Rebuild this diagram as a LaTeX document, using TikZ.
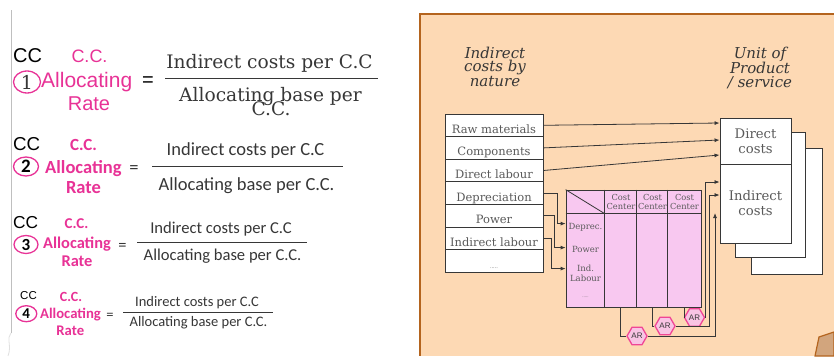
\documentclass[tikz,border=0pt]{standalone}
\usepackage{fontspec}
\setmainfont{DejaVu Serif}
\newfontfamily\slab{DejaVu Serif}
\newfontfamily\arialf{Liberation Sans}
\newfontfamily\calf{Carlito}
\usetikzlibrary{arrows.meta,shapes.geometric,calc}
\definecolor{pk}{RGB}{232,50,150}
\definecolor{txt}{RGB}{55,55,55}
\definecolor{gtxt}{RGB}{90,90,90}
\definecolor{peach}{RGB}{253,217,180}
\definecolor{brownb}{RGB}{180,100,30}
\definecolor{mpink}{RGB}{248,200,240}
\definecolor{hexf}{RGB}{248,196,228}
\definecolor{hexd}{RGB}{240,70,150}
\definecolor{tanf}{RGB}{210,165,125}
\newcommand{\fsz}[1]{\fontsize{#1}{#1}\selectfont}
\begin{document}
\begin{tikzpicture}[x=1pt,y=-1pt,
  t/.style={inner sep=0pt, anchor=base},
  circ/.style={draw=pk, line width=1.3pt, ellipse, inner sep=0pt},
  fline/.style={draw=txt, line width=0.9pt},
  rowbox/.style={draw=txt, fill=white, line width=0.8pt, minimum width=98pt, minimum height=22.6pt,
     text height=16pt, text depth=0pt, inner sep=0pt, font=\slab\fsz{11.5}, text=gtxt},
  stackbox/.style={draw=txt, fill=white, line width=0.9pt, inner sep=0pt, align=center,
     font=\slab\fontsize{13.2}{15}\selectfont, text=gtxt},
  hdr/.style={font=\slab\itshape\fontsize{15}{13.5}\selectfont, align=center, inner sep=0pt, anchor=north, text=txt},
  conn/.style={draw=txt, line width=0.8pt},
  arr/.style={conn, -{Latex[length=5pt,width=4pt]}},
  hexa/.style={regular polygon, regular polygon sides=6, minimum size=20pt, inner sep=0pt,
     fill=hexf, draw=hexd, line width=1.3pt, font=\arialf\fsz{8}, text=txt},
  mlab/.style={font=\slab\fontsize{8.5}{10}\selectfont, text=gtxt, align=center, inner sep=0pt},
  hlab/.style={font=\slab\fontsize{8.3}{9}\selectfont, text=gtxt, align=center, inner sep=0pt}
]
\useasboundingbox (0,0) rectangle (834,356);
\fill[white] (0,0) rectangle (834,356);

% left margin line
\draw[black!25, line width=1pt] (11,10) -- (11,333);
\draw[black!12, line width=0.8pt] (11,333) .. controls (6,338) and (12,346) .. (8,356);

% ---------- Formula 1 ----------
\node[t, anchor=base west, font=\arialf\fsz{20}, text=black] (cc1) at (13,62) {CC};
\node[t, font=\arialf\fsz{18}, text=pk] (cct1) at (89.5,62) {C.C.};
\node[circ, minimum width=27pt, minimum height=22pt, font=\slab\fsz{19}, text=txt] (n1) at (27,82) {1};
\node[t, anchor=base west, font=\arialf\fsz{21}, text=pk] (al1) at (41,87.5) {Allocating};
\node[inner sep=0pt, font=\arialf\fsz{20}, text=black] (eq1) at (148,82) {=};
\node[t, font=\arialf\fsz{20}, text=pk] (rt1) at (89,110.5) {Rate};
\node[t, font=\slab\fsz{18.6}, text=txt] (num1) at (269.5,68) {Indirect costs per C.C};
\draw[fline] (165,78) -- (378,78);
\node[t, font=\slab\fsz{18.6}, text=txt] (den1) at (270.5,101.5) {Allocating base per};
\node[t, font=\slab\fsz{18.6}, text=txt] (den1b) at (271,115) {C.C.};

% ---------- Formula 2 ----------
\node[t, anchor=base west, font=\arialf\fsz{18.7}, text=black] (cc2) at (13,150) {CC};
\node[t, font=\calf\bfseries\fsz{17}, text=pk] (cct2) at (83.5,150) {C.C.};
\node[circ, minimum width=25pt, minimum height=19pt, font=\calf\bfseries\fsz{19}, text=black] (n2) at (26,166.5) {2};
\node[t, anchor=base west, font=\calf\bfseries\fsz{18.5}, text=pk] (al2) at (45,173.3) {Allocating};
\node[inner sep=0pt, font=\calf\fsz{18.5}, text=txt] (eq2) at (134,170) {=};
\node[t, font=\calf\bfseries\fsz{18.5}, text=pk] (rt2) at (83.5,193.3) {Rate};
\node[t, font=\calf\fsz{18.5}, text=txt] (num2) at (245.5,155.7) {Indirect costs per C.C};
\draw[fline] (152,166) -- (343,166);
\node[t, font=\calf\fsz{18.5}, text=txt] (den2) at (246.5,190) {Allocating base per C.C.};

% ---------- Formula 3 ----------
\node[t, anchor=base west, font=\arialf\fsz{17.3}, text=black] (cc3) at (13,228.3) {CC};
\node[t, font=\calf\bfseries\fsz{15}, text=pk] (cct3) at (76.5,228.3) {C.C.};
\node[circ, minimum width=24pt, minimum height=18pt, font=\calf\bfseries\fsz{17}, text=black] (n3) at (26,244.5) {3};
\node[t, anchor=base west, font=\calf\bfseries\fsz{16.4}, text=pk] (al3) at (43,248.3) {Allocating};
\node[inner sep=0pt, font=\calf\fsz{16.4}, text=txt] (eq3) at (122.5,246.7) {=};
\node[t, font=\calf\bfseries\fsz{16.4}, text=pk] (rt3) at (77,266.7) {Rate};
\node[t, font=\calf\fsz{16.6}, text=txt] (num3) at (221,233.3) {Indirect costs per C.C};
\draw[fline] (137,242) -- (307,242);
\node[t, font=\calf\fsz{16.6}, text=txt] (den3) at (222.5,260) {Allocating base per C.C.};

% ---------- Formula 4 ----------
\node[t, anchor=base west, font=\arialf\fsz{11.5}, text=black] (cc4) at (20,299) {CC};
\node[t, font=\calf\bfseries\fsz{14}, text=pk] (cct4) at (71,301.5) {C.C.};
\node[circ, minimum width=21pt, minimum height=16pt, font=\calf\bfseries\fsz{15}, text=black] (n4) at (26.3,313.7) {4};
\node[t, anchor=base west, font=\calf\bfseries\fsz{14.7}, text=pk] (al4) at (40,318.3) {Allocating};
\node[inner sep=0pt, font=\calf\fsz{14.5}, text=txt] (eq4) at (110,316) {=};
\node[t, font=\calf\bfseries\fsz{14.7}, text=pk] (rt4) at (70.3,335) {Rate};
\node[t, font=\calf\fsz{14.5}, text=txt] (num4) at (197,306) {Indirect costs per C.C};
\draw[fline] (123.3,312.7) -- (273.3,312.7);
\node[t, font=\calf\fsz{14.5}, text=txt] (den4) at (198.5,326.7) {Allocating base per C.C.};

% ---------- Right panel ----------
\fill[peach] (420,14) rectangle (834,356);
\draw[brownb, line width=1.6pt] (834,14) -- (420,14) -- (420,356);
\filldraw[fill=tanf, draw=brownb, line width=1.2pt] (815,356) -- (819,337) -- (834,332) -- (834,356) -- cycle;

\node[hdr] (hdrL) at (495,46.5) {Indirect\\costs by\\nature};
\node[hdr] (hdrR) at (760,46.5) {Unit of\\Product\\/ service};

% cost rows
\node[rowbox] (raw) at (494,125.3) {Raw materials};
\node[rowbox] (comp) at (494,147.9) {Components};
\node[rowbox] (dl) at (494,170.5) {Direct labour};
\node[rowbox] (dep) at (494,193.1) {Depreciation};
\node[rowbox] (pow) at (494,215.7) {Power};
\node[rowbox] (il) at (494,238.3) {Indirect labour};
\node[rowbox, font=\slab\fsz{5}] (dots) at (494,260.9) {.....};

% stacked product boxes
\node[stackbox, minimum width=71pt, minimum height=126pt] (back2) at (786.5,211) {};
\node[stackbox, minimum width=70pt, minimum height=125pt] (back1) at (770,194.5) {};
\node[stackbox, minimum width=71pt, minimum height=46pt] (dc) at (755.5,141) {Direct\\costs};
\node[stackbox, minimum width=71pt, minimum height=79pt] (ic) at (755.5,203.5) {Indirect\\costs};

% cost centre matrix
\node[draw=txt, fill=mpink, line width=0.8pt, minimum width=135pt, minimum height=117pt, inner sep=0pt] (mtx) at (633.5,248.5) {};
\foreach \dx in {39,71,102}
  \draw[conn] ($(mtx.north west)+(\dx,0)$) -- ($(mtx.south west)+(\dx,0)$);
\draw[conn] ($(mtx.north west)+(0,24)$) -- ($(mtx.north east)+(0,24)$);
\draw[conn] (mtx.north west) -- ($(mtx.north west)+(39,24)$);
\node[hlab] (hc1) at (621,202) {Cost\\Center};
\node[hlab] (hc2) at (652.5,202) {Cost\\Center};
\node[hlab] (hc3) at (684.5,202) {Cost\\Center};
\node[mlab] (rl1) at (585.5,227) {Deprec.};
\node[mlab] (rl2) at (585.5,249) {Power};
\node[mlab] (rl3) at (585.5,273) {Ind.\\Labour};
\node[mlab, font=\slab\fsz{4}] (rl4) at (585.5,297) {.....};

% direct cost arrows
\draw[arr] (raw.east) -- ($(dc.west)+(0,-18)$);
\draw[arr] (comp.east) -- ($(dc.west)+(0,-1)$);
\draw[arr] (dl.east) -- ($(dc.west)+(0,14)$);

% indirect costs into matrix
\draw[arr] (dep.east) -- ++(14,0) |- ($(mtx.north west)+(0,34)$);
\draw[arr] (pow.east) -- ++(11,0) |- ($(mtx.north west)+(0,58)$);
\draw[arr] (il.east) -- ++(8,0) |- ($(mtx.north west)+(0,79)$);

% allocation rates
\coordinate (c1) at ($(mtx.south west)+(55,0)$);
\coordinate (c2) at ($(mtx.south west)+(86.5,0)$);
\coordinate (c3) at ($(mtx.south west)+(118.5,0)$);
\coordinate (t1) at (715,213);
\node[hexa] (ar1) at (637,336) {AR};
\node[hexa] (ar2) at (665,326) {AR};
\node[hexa] (ar3) at (694.5,317.5) {AR};
\draw[conn] (c1) |- (ar1.west);
\draw[arr] (ar1.east) -| (t1);
\draw[conn] (c2) |- (ar2.west);
\draw[arr] (ar2.east) -| ($(ic.west)+(-10,-8.5)$) -- ($(ic.west)+(0,-8.5)$);
\draw[conn] (c3) |- (ar3.west);
\draw[arr] (ar3.east) -| ($(ic.west)+(-14,-21.5)$) -- ($(ic.west)+(0,-21.5)$);
\end{tikzpicture}
\end{document}
